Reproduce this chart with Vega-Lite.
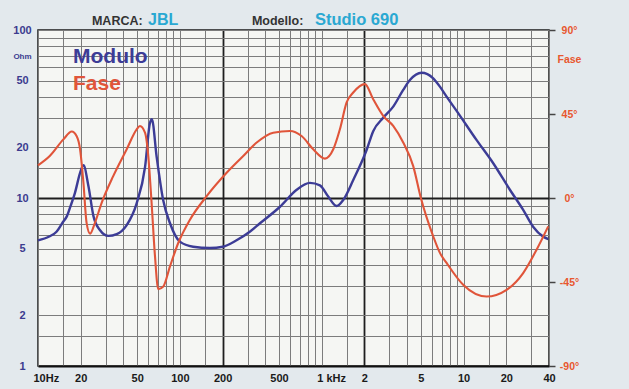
{
  "$schema": "https://vega.github.io/schema/vega-lite/v6.json",
  "width": 511,
  "height": 336,
  "autosize": {"type": "none"},
  "padding": {"left": 38, "top": 30, "right": 80, "bottom": 23},
  "background": "#e3e9ed",
  "config": {
    "view": {"fill": "#f5f6f3", "stroke": "#1a1a1a", "strokeWidth": 1.5},
    "font": "Liberation Sans"
  },
  "datasets": {
    "modulo": [
      {"f": 10, "ohm": 5.6}, {"f": 12, "ohm": 5.9}, {"f": 13.5, "ohm": 6.3}, {"f": 15, "ohm": 7.2},
      {"f": 16, "ohm": 7.8}, {"f": 17, "ohm": 9.0}, {"f": 18.2, "ohm": 10.7}, {"f": 19.8, "ohm": 14.1},
      {"f": 20.9, "ohm": 15.7}, {"f": 22.7, "ohm": 11.7}, {"f": 24.6, "ohm": 7.8}, {"f": 27.3, "ohm": 6.45},
      {"f": 31.3, "ohm": 5.95}, {"f": 35.9, "ohm": 6.1}, {"f": 42.2, "ohm": 6.9}, {"f": 49.6, "ohm": 9.3},
      {"f": 56.9, "ohm": 15.4}, {"f": 61.5, "ohm": 27.9}, {"f": 63.5, "ohm": 29.4}, {"f": 68.6, "ohm": 17.6},
      {"f": 76.3, "ohm": 9.7}, {"f": 85.1, "ohm": 7.1}, {"f": 100, "ohm": 5.5}, {"f": 124, "ohm": 5.13},
      {"f": 163, "ohm": 5.04}, {"f": 201, "ohm": 5.13}, {"f": 251, "ohm": 5.6}, {"f": 311, "ohm": 6.3},
      {"f": 367, "ohm": 7.07}, {"f": 508, "ohm": 8.87}, {"f": 666, "ohm": 11.2}, {"f": 826, "ohm": 12.3},
      {"f": 971, "ohm": 11.9}, {"f": 1111, "ohm": 10.2}, {"f": 1274, "ohm": 8.96}, {"f": 1418, "ohm": 9.73},
      {"f": 1668, "ohm": 12.8}, {"f": 2072, "ohm": 19.3}, {"f": 2306, "ohm": 25.0}, {"f": 2712, "ohm": 30.0},
      {"f": 3191, "ohm": 35.0}, {"f": 3753, "ohm": 44.0}, {"f": 4184, "ohm": 50.4}, {"f": 5058, "ohm": 55.7},
      {"f": 6107, "ohm": 51.6}, {"f": 6809, "ohm": 46.0}, {"f": 7590, "ohm": 40.1}, {"f": 8929, "ohm": 33.0},
      {"f": 12360, "ohm": 22.1}, {"f": 16180, "ohm": 16.1}, {"f": 21200, "ohm": 11.2}, {"f": 26300, "ohm": 8.5},
      {"f": 30900, "ohm": 6.75}, {"f": 36400, "ohm": 5.89}, {"f": 39500, "ohm": 5.7}
    ],
    "fase": [
      {"f": 10, "deg": 17.5}, {"f": 12.1, "deg": 22.5}, {"f": 15.1, "deg": 31.4}, {"f": 17.3, "deg": 35.6},
      {"f": 18.7, "deg": 33.2}, {"f": 19.8, "deg": 26.1}, {"f": 20.9, "deg": 8.2}, {"f": 22.0, "deg": -13.3},
      {"f": 23.3, "deg": -19.1}, {"f": 25.2, "deg": -13.3}, {"f": 28.1, "deg": -2.6}, {"f": 33.9, "deg": 11.7},
      {"f": 42.2, "deg": 26.1}, {"f": 49.6, "deg": 36.8}, {"f": 52.3, "deg": 38.6}, {"f": 56.8, "deg": 35.0},
      {"f": 59.9, "deg": 22.5}, {"f": 63.2, "deg": -2.6}, {"f": 66.8, "deg": -31.3}, {"f": 70.4, "deg": -48.8},
      {"f": 76.4, "deg": -47.4}, {"f": 85.2, "deg": -36.6}, {"f": 97.4, "deg": -24.1}, {"f": 117.8, "deg": -11.6},
      {"f": 154.5, "deg": 1.0}, {"f": 213.6, "deg": 13.5}, {"f": 279.8, "deg": 22.5}, {"f": 348, "deg": 29.7},
      {"f": 455, "deg": 35.0}, {"f": 597, "deg": 35.9}, {"f": 721, "deg": 33.2}, {"f": 871, "deg": 26.1},
      {"f": 1054, "deg": 21.1}, {"f": 1206, "deg": 26.1}, {"f": 1343, "deg": 36.8}, {"f": 1498, "deg": 51.2},
      {"f": 1668, "deg": 56.5}, {"f": 2015, "deg": 61.0}, {"f": 2306, "deg": 52.9}, {"f": 2712, "deg": 44.0},
      {"f": 3191, "deg": 38.6}, {"f": 3753, "deg": 29.7}, {"f": 4415, "deg": 17.1}, {"f": 5000, "deg": 0.0},
      {"f": 6107, "deg": -20.5}, {"f": 6809, "deg": -29.4}, {"f": 7590, "deg": -34.8}, {"f": 9930, "deg": -46.5},
      {"f": 14500, "deg": -52.8}, {"f": 20100, "deg": -49.2}, {"f": 26300, "deg": -40.2}, {"f": 32700, "deg": -27.7},
      {"f": 39500, "deg": -15.2}
    ]
  },
  "layer": [
    {
      "layer": [
        {
          "data": {"name": "modulo"},
          "mark": {"type": "line", "interpolate": "monotone", "strokeWidth": 2.4},
          "encoding": {
            "x": {
              "field": "f", "type": "quantitative",
              "scale": {"type": "log", "domain": [10, 40000], "nice": false},
              "axis": {
                "title": null,
                "values": [10,15,20,30,40,50,60,70,80,90,100,150,200,300,400,500,600,700,800,900,1000,1500,2000,3000,4000,5000,6000,7000,8000,9000,10000,15000,20000,30000,40000],
                "labelExpr": "indexof([10,20,50,100,200,500,1000,2000,5000,10000,20000,40000], datum.value) >= 0 ? ['10Hz','20','50','100','200','500','1 kHz','2','5','10','20','40'][indexof([10,20,50,100,200,500,1000,2000,5000,10000,20000,40000], datum.value)] : ''",
                "ticks": false, "tickSize": 0,
                "grid": true,
                "gridColor": {"condition": {"test": "datum.value == 200 || datum.value == 2000", "value": "#1e1e1e"}, "value": "#7c7c7c"},
                "gridWidth": {"condition": {"test": "datum.value == 200 || datum.value == 2000", "value": 1.8}, "value": 1},
                "domainColor": "#111111", "domainWidth": 2,
                "labelFont": "Liberation Sans", "labelFontWeight": "bold", "labelFontSize": 11, "labelColor": "#1a1a1a",
                "labelPadding": 6, "labelBaseline": "top",
                "labelAlign": {"condition": {"test": "datum.value == 10 || datum.value == 1000", "value": "left"}, "value": "center"},
                "labelOffset": {"condition": {"test": "datum.value == 10 || datum.value == 1000", "value": -5}, "value": 0},
                "labelOverlap": false, "labelBound": false, "labelFlush": false
              }
            },
            "y": {
              "field": "ohm", "type": "quantitative",
              "scale": {"type": "log", "domain": [1, 100], "nice": false},
              "axis": {
                "orient": "left", "title": null,
                "values": [1,1.5,2,3,4,5,6,7,8,9,10,15,20,30,40,50,60,70,80,90,100],
                "labelExpr": "indexof([1,2,5,10,20,50,100], datum.value) >= 0 ? '' + datum.value : (datum.value == 70 ? 'Ohm' : '')",
                "labelFontSize": {"condition": {"test": "datum.value == 70", "value": 8}, "value": 11},
                "ticks": false, "tickSize": 0, "domain": false,
                "grid": true,
                "gridColor": {"condition": {"test": "datum.value == 10", "value": "#1e1e1e"}, "value": "#7c7c7c"},
                "gridWidth": {"condition": {"test": "datum.value == 10", "value": 1.8}, "value": 1},
                "labelFont": "Liberation Sans", "labelFontWeight": "bold", "labelColor": "#3b3b8f",
                "labelAlign": "center", "labelPadding": 16, "labelBaseline": "middle",
                "labelOverlap": false, "labelBound": false, "labelFlush": false
              }
            },
            "color": {
              "datum": "Modulo", "type": "nominal",
              "scale": {"domain": ["Modulo", "Fase"], "range": ["#3c3c96", "#e0553a"]},
              "legend": {
                "orient": "none", "legendX": 14, "legendY": 16, "title": null,
                "symbolSize": 0, "symbolStrokeWidth": 0, "symbolOpacity": 0,
                "labelFontSize": 21, "labelFont": "Liberation Sans", "labelFontWeight": "bold",
                "labelOffset": 0, "rowPadding": 5, "padding": 0, "labelLimit": 300,
                "encode": {"labels": {"update": {"fill": {"scale": "color", "field": "value"}}}}
              }
            }
          }
        },
        {
          "data": {"values": [{}]},
          "mark": {"type": "text", "align": "left", "baseline": "alphabetic", "font": "Liberation Sans", "fontWeight": "bold", "fontSize": 12.5, "color": "#333333"},
          "encoding": {"x": {"datum": 24, "type": "quantitative"}, "y": {"datum": 107, "type": "quantitative"}, "text": {"value": "MARCA:"}}
        },
        {
          "data": {"values": [{}]},
          "mark": {"type": "text", "align": "left", "baseline": "alphabetic", "font": "Liberation Sans", "fontWeight": "bold", "fontSize": 16, "color": "#2aa8d2"},
          "encoding": {"x": {"datum": 59.6, "type": "quantitative"}, "y": {"datum": 107, "type": "quantitative"}, "text": {"value": "JBL"}}
        },
        {
          "data": {"values": [{}]},
          "mark": {"type": "text", "align": "left", "baseline": "alphabetic", "font": "Liberation Sans", "fontWeight": "bold", "fontSize": 12.5, "color": "#333333"},
          "encoding": {"x": {"datum": 322, "type": "quantitative"}, "y": {"datum": 107, "type": "quantitative"}, "text": {"value": "Modello:"}}
        },
        {
          "data": {"values": [{}]},
          "mark": {"type": "text", "align": "left", "baseline": "alphabetic", "font": "Liberation Sans", "fontWeight": "bold", "fontSize": 16.5, "color": "#2aa8d2"},
          "encoding": {"x": {"datum": 896, "type": "quantitative"}, "y": {"datum": 107, "type": "quantitative"}, "text": {"value": "Studio 690"}}
        }
      ]
    },
    {
      "data": {"name": "fase"},
      "mark": {"type": "line", "interpolate": "monotone", "strokeWidth": 2.1},
      "encoding": {
        "x": {"field": "f", "type": "quantitative", "scale": {"type": "log", "domain": [10, 40000], "nice": false}},
        "y": {
          "field": "deg", "type": "quantitative",
          "scale": {"domain": [-90, 90], "nice": false},
          "axis": {
            "orient": "right", "title": null,
            "values": [-90, -45, 0, 45, 74, 90],
            "labelExpr": "datum.value == 74 ? 'Fase' : datum.value + '°'",
            "grid": false, "domain": false, "tickSize": 6, "tickWidth": 1.5,
            "tickColor": {"condition": {"test": "datum.value == 74", "value": "transparent"}, "value": "#444444"},
            "labelColor": "#e8572f", "labelFont": "Liberation Sans", "labelFontWeight": "bold", "labelFontSize": 10.5,
            "labelPadding": 14, "labelAlign": "center", "labelBaseline": "middle",
            "labelOverlap": false, "labelBound": false, "labelFlush": false
          }
        },
        "color": {"datum": "Fase", "type": "nominal"}
      }
    }
  ],
  "resolve": {"scale": {"y": "independent"}, "axis": {"y": "independent"}}
}
